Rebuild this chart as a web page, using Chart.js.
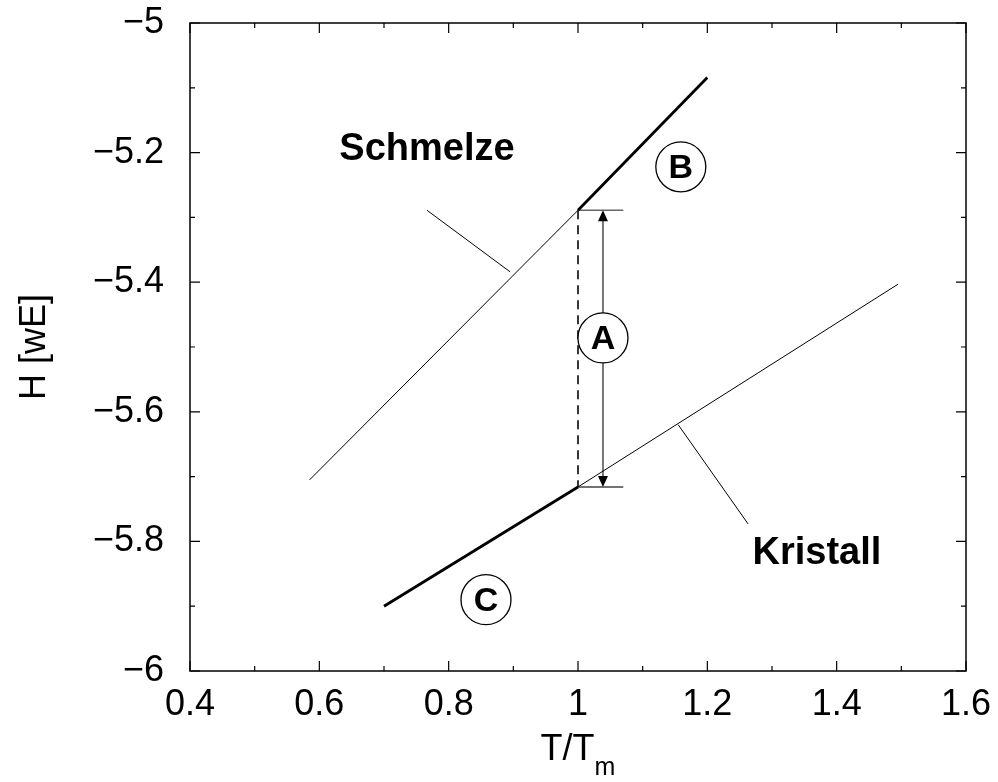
<!DOCTYPE html>
<html>
<head>
<meta charset="utf-8">
<script src="https://cdn.jsdelivr.net/npm/chart.js@4.4.1/dist/chart.umd.min.js"></script>
<style>
  html, body { margin: 0; padding: 0; background: #fff; }
  #wrap { width: 998px; height: 782px; }
</style>
</head>
<body>
<div id="wrap"><canvas id="chart" width="998" height="782"></canvas></div>
<script>
// Tick values
const xTickValues = [0.4, 0.6, 0.8, 1.0, 1.2, 1.4, 1.6];
const yTickValues = [-6, -5.8, -5.6, -5.4, -5.2, -5];
const xMinorTicks = [0.5, 0.7, 0.9, 1.1, 1.3, 1.5];
const yMinorTicks = [-5.9, -5.7, -5.5, -5.3, -5.1];

// Enthalpy curves (T/Tm, H)
const meltThin = [[0.585, -5.705], [1.0, -5.289]];
const meltThick = [[1.0, -5.289], [1.2, -5.084]];
const crystalThick = [[0.7, -5.9], [1.0, -5.716]];
const crystalThin = [[1.0, -5.716], [1.495, -5.403]];

// Jump at the melting point
const jumpDashed = [[1.0, -5.289], [1.0, -5.716]];
const jumpTopBar = [[1.0, -5.289], [1.07, -5.289]];
const jumpBottomBar = [[1.0, -5.716], [1.07, -5.716]];
const arrowX = 1.0386;
const arrowTop = -5.289;
const arrowBottom = -5.716;

// Label pointers
const meltPointer = [[0.7665, -5.289], [0.895, -5.384]];
const crystalPointer = [[1.155, -5.62], [1.263, -5.773]];

// Text labels
const textLabels = [
  { text: "Schmelze", x: 0.7665, y: -5.196 },
  { text: "Kristall", x: 1.3695, y: -5.818 }
];
const circleLabels = [
  { text: "B", x: 1.159, y: -5.222 },
  { text: "A", x: 1.0386, y: -5.486 },
  { text: "C", x: 0.8577, y: -5.89 }
];

const FONT = "'Liberation Sans', Arial, Helvetica, sans-serif";

function pts(arr) { return arr.map(p => ({ x: p[0], y: p[1] })); }
function fmt(v) {
  const s = String(Math.round(v * 10) / 10);
  return s.replace("-", "\u2212");
}

function line(data, width, color, dash) {
  return {
    data: pts(data),
    showLine: true,
    borderColor: color || "#000",
    borderWidth: width,
    borderDash: dash || [],
    pointRadius: 0,
    fill: false
  };
}

const decorPlugin = {
  id: "decor",
  afterDraw(chart) {
    const ctx = chart.ctx;
    const xs = chart.scales.x, ys = chart.scales.y;
    const a = chart.chartArea;
    ctx.save();

    // frame
    ctx.strokeStyle = "#000";
    ctx.lineWidth = 1.5;
    ctx.strokeRect(a.left, a.top, a.right - a.left, a.bottom - a.top);

    // inner ticks on all four sides
    ctx.lineWidth = 1.2;
    function xTick(v, len) {
      const px = xs.getPixelForValue(v);
      ctx.beginPath();
      ctx.moveTo(px, a.bottom); ctx.lineTo(px, a.bottom - len);
      ctx.moveTo(px, a.top); ctx.lineTo(px, a.top + len);
      ctx.stroke();
    }
    function yTick(v, len) {
      const py = ys.getPixelForValue(v);
      ctx.beginPath();
      ctx.moveTo(a.left, py); ctx.lineTo(a.left + len, py);
      ctx.moveTo(a.right, py); ctx.lineTo(a.right - len, py);
      ctx.stroke();
    }
    xTickValues.forEach(v => xTick(v, 10));
    xMinorTicks.forEach(v => xTick(v, 5));
    yTickValues.forEach(v => yTick(v, 10));
    yMinorTicks.forEach(v => yTick(v, 5));

    // arrow heads
    const ax = xs.getPixelForValue(arrowX);
    const at = ys.getPixelForValue(arrowTop);
    const ab = ys.getPixelForValue(arrowBottom);
    ctx.fillStyle = "#000";
    ctx.beginPath();
    ctx.moveTo(ax, at); ctx.lineTo(ax - 5, at + 11); ctx.lineTo(ax + 5, at + 11); ctx.closePath();
    ctx.fill();
    ctx.beginPath();
    ctx.moveTo(ax, ab); ctx.lineTo(ax - 5, ab - 11); ctx.lineTo(ax + 5, ab - 11); ctx.closePath();
    ctx.fill();

    // labels
    ctx.textAlign = "center";
    ctx.textBaseline = "middle";
    ctx.font = "bold 38px " + FONT;
    textLabels.forEach(l => {
      ctx.fillText(l.text, xs.getPixelForValue(l.x), ys.getPixelForValue(l.y));
    });
    circleLabels.forEach(l => {
      const cx = xs.getPixelForValue(l.x), cy = ys.getPixelForValue(l.y);
      ctx.fillStyle = "#fff";
      ctx.beginPath();
      ctx.arc(cx, cy, 25, 0, Math.PI * 2);
      ctx.fill();
      ctx.strokeStyle = "#000";
      ctx.lineWidth = 1.3;
      ctx.stroke();
      ctx.fillStyle = "#000";
      ctx.font = "bold 34px " + FONT;
      ctx.fillText(l.text, cx, cy + 2);
    });

    // axis titles
    ctx.textBaseline = "alphabetic";
    const cxT = (a.left + a.right) / 2;
    const main = "T/T";
    ctx.font = "36px " + FONT;
    const wMain = ctx.measureText(main).width;
    ctx.font = "25px " + FONT;
    const wSub = ctx.measureText("m").width;
    const startX = cxT - (wMain + wSub) / 2;
    ctx.textAlign = "left";
    ctx.font = "36px " + FONT;
    ctx.fillText(main, startX, 760);
    ctx.font = "25px " + FONT;
    ctx.fillText("m", startX + wMain, 775);

    ctx.translate(35, (a.top + a.bottom) / 2);
    ctx.rotate(-Math.PI / 2);
    ctx.textAlign = "center";
    ctx.textBaseline = "middle";
    ctx.font = "36px " + FONT;
    ctx.fillText("H [wE]", 0, 0);
    ctx.restore();
  }
};

new Chart(document.getElementById("chart"), {
  type: "scatter",
  data: {
    datasets: [
      line(meltThin, 1),
      line(meltThick, 2.8),
      line(crystalThick, 2.8),
      line(crystalThin, 1),
      line(jumpDashed, 1.8, "#222", [9, 6]),
      line(jumpTopBar, 1.6, "#666"),
      line(jumpBottomBar, 1.6, "#444"),
      line([[arrowX, arrowTop - 0.016], [arrowX, arrowBottom + 0.016]], 2, "#777"),
      line(meltPointer, 1),
      line(crystalPointer, 1)
    ]
  },
  options: {
    responsive: false,
    animation: false,
    layout: { padding: { top: 23, right: 32, left: 0, bottom: 0 } },
    plugins: {
      legend: { display: false },
      tooltip: { enabled: false }
    },
    scales: {
      x: {
        type: "linear",
        min: 0.4,
        max: 1.6,
        afterBuildTicks: s => { s.ticks = xTickValues.map(v => ({ value: v })); },
        afterFit: s => { s.height = 111; s.paddingLeft = 0; s.paddingRight = 0; },
        grid: { display: false, drawTicks: false },
        border: { display: false },
        ticks: {
          color: "#000",
          padding: 12,
          maxRotation: 0,
          font: { size: 36, family: FONT },
          callback: v => fmt(v)
        }
      },
      y: {
        type: "linear",
        min: -6,
        max: -5,
        afterBuildTicks: s => { s.ticks = yTickValues.map(v => ({ value: v })); },
        afterFit: s => { s.width = 190; s.paddingTop = 0; s.paddingBottom = 0; },
        grid: { display: false, drawTicks: false },
        border: { display: false },
        ticks: {
          color: "#000",
          padding: 26,
          font: { size: 36, family: FONT },
          callback: v => fmt(v)
        }
      }
    }
  },
  plugins: [decorPlugin]
});
</script>
</body>
</html>
